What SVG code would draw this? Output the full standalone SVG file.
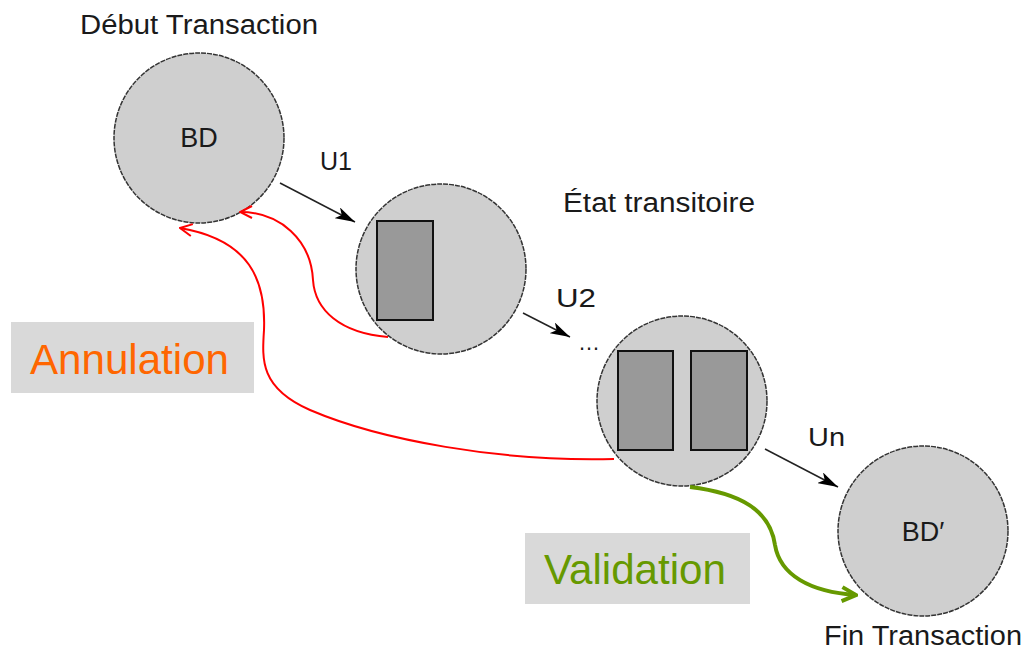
<svg xmlns="http://www.w3.org/2000/svg" width="1027" height="652" viewBox="0 0 1027 652">
<defs>
<style>
.c{fill:#cfcfcf;stroke:#333;stroke-width:1.5;stroke-dasharray:5 1}
.r{fill:#999;stroke:#111;stroke-width:2}
.t{font-family:"Liberation Sans",Arial,sans-serif;fill:#1a1a1a}
.k{stroke:#222;stroke-width:1.5;fill:none;marker-end:url(#ah)}
.red{stroke:#f00;stroke-width:2;fill:none;marker-end:url(#rh)}
.grn{stroke:#669900;stroke-width:4;fill:none;marker-end:url(#gh)}
.box{fill:#d9d9d9}
.big{font-family:"Liberation Sans",Arial,sans-serif;font-size:42px}
</style>
<marker id="ah" viewBox="0 0 20 12" refX="20" refY="6" markerWidth="20" markerHeight="12" markerUnits="userSpaceOnUse" orient="auto"><path d="M0,0 L20,6 L0,12 L5,6 Z" fill="#000"/></marker>
<marker id="rh" viewBox="0 0 14 14" refX="13" refY="7" markerWidth="14" markerHeight="14" markerUnits="userSpaceOnUse" orient="auto"><path d="M1,1 L13,7 L1,13" fill="none" stroke="#f00" stroke-width="2"/></marker>
<marker id="gh" viewBox="0 0 18 18" refX="16" refY="9" markerWidth="18" markerHeight="18" markerUnits="userSpaceOnUse" orient="auto"><path d="M2,2 L16,9 L2,16" fill="none" stroke="#669900" stroke-width="4"/></marker>
</defs>
<rect width="1027" height="652" fill="#fff"/>
<g id="n1">
<circle class="c" cx="199" cy="138" r="85"/>
<text class="t" x="199" y="147" font-size="27" text-anchor="middle">BD</text>
<text class="t" x="80" y="34" font-size="27" textLength="238" lengthAdjust="spacingAndGlyphs">Début Transaction</text>
</g>
<g id="n2">
<circle class="c" cx="441" cy="269" r="85"/>
<rect class="r" x="377" y="221" width="56" height="99"/>
<text class="t" x="563" y="212" font-size="27" textLength="192" lengthAdjust="spacingAndGlyphs">État transitoire</text>
</g>
<g id="n3">
<circle class="c" cx="682" cy="401" r="85"/>
<rect class="r" x="618" y="351" width="55" height="99"/>
<rect class="r" x="691" y="351" width="56" height="99"/>
</g>
<g id="n4">
<circle class="c" cx="923" cy="531" r="85"/>
<text class="t" x="923" y="541" font-size="27" text-anchor="middle">BD′</text>
<text class="t" x="824" y="645" font-size="27" textLength="198" lengthAdjust="spacingAndGlyphs">Fin Transaction</text>
</g>
<g id="lbl-annulation">
<rect class="box" x="11" y="322" width="243" height="71"/>
<text class="big" x="30" y="374" fill="#ff6600" textLength="199" lengthAdjust="spacingAndGlyphs">Annulation</text>
</g>
<g id="lbl-validation">
<rect class="box" x="525" y="533" width="225" height="71"/>
<text class="big" x="544" y="584" fill="#669900" textLength="182" lengthAdjust="spacingAndGlyphs">Validation</text>
</g>
<g id="connectors">
<line class="k" x1="280" y1="183" x2="355" y2="222"/>
<text class="t" x="320" y="170" font-size="26" textLength="32" lengthAdjust="spacingAndGlyphs">U1</text>
<line class="k" x1="523" y1="313" x2="570" y2="337"/>
<text class="t" x="556" y="307" font-size="26" textLength="40" lengthAdjust="spacingAndGlyphs">U2</text>
<text class="t" x="589" y="350" font-size="22" text-anchor="middle">…</text>
<line class="k" x1="765" y1="449" x2="838" y2="487"/>
<text class="t" x="808" y="446" font-size="26" textLength="37" lengthAdjust="spacingAndGlyphs">Un</text>
<path class="red" d="M388,337 C340,333 315,310 313,280 C311,240 280,212 240,212"/>
<path class="red" d="M614,459 C500,462 380,440 310,410 C260,388 262,360 264,330 C266,280 250,240 180,228"/>
<path class="grn" d="M690,487 C740,493 770,510 775,545 C780,575 810,592 856,595"/>
</g>
</svg>
